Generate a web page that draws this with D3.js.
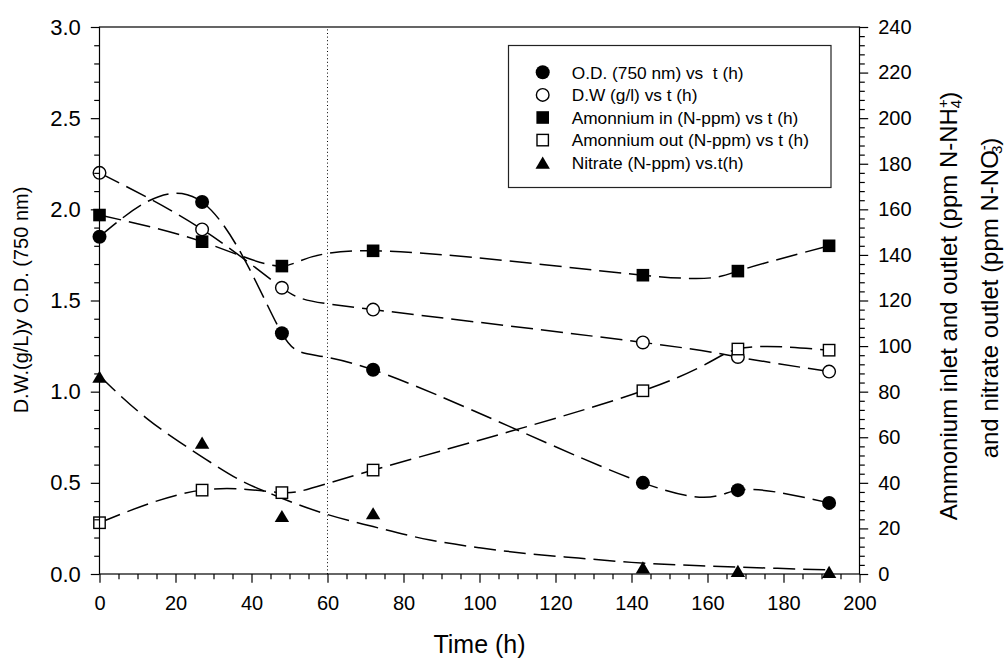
<!DOCTYPE html>
<html>
<head>
<meta charset="utf-8">
<script src="https://cdn.jsdelivr.net/npm/d3@7"></script>
<style>
  html, body { margin: 0; padding: 0; background: #fff; }
  svg { display: block; font-family: "Liberation Sans", Arial, sans-serif; }
  text { white-space: pre; }
</style>
</head>
<body>
<svg id="chart" width="1008" height="661"></svg>
<script>
// Sampling times (h)
const times = [0, 27, 48, 72, 143, 168, 192];

// Left axis series: D.W. (g/L) and O.D. (750 nm)
const odValues = [1.85, 2.04, 1.32, 1.12, 0.50, 0.46, 0.39];
const dwValues = [2.20, 1.89, 1.57, 1.45, 1.27, 1.19, 1.11];

// Right axis series: N-ppm
const nh4InValues  = [157.5, 145.8, 135.1, 141.8, 131.1, 132.9, 144.0];
const nh4OutValues = [22.5, 36.8, 35.7, 45.6, 80.4, 98.7, 98.2];
const nitrateValues = [86.5, 57.6, 25.4, 26.6, 2.9, 1.3, 0.9];

// Fitted decay curve for nitrate (time, ppm)
const nitrateFitTimes  = [0, 5, 13, 21, 28, 37, 47, 59, 72, 87, 100, 113, 126, 140, 160, 180, 192];
const nitrateFitValues = [87, 79, 67.5, 58, 50.3, 41.2, 33.9, 26.6, 20.8, 14.9, 11.5, 8.9, 7.0, 5.1, 3.5, 2.4, 1.8];

// Axis ticks
const xTicks = [0, 20, 40, 60, 80, 100, 120, 140, 160, 180, 200];
const yLeftTicks = [0.0, 0.5, 1.0, 1.5, 2.0, 2.5, 3.0];
const yRightTicks = [0, 20, 40, 60, 80, 100, 120, 140, 160, 180, 200, 220, 240];
const markerTime = 60;

// Legend entries
const legendLabels = [
  "O.D. (750 nm) vs  t (h)",
  "D.W (g/l) vs t (h)",
  "Amonnium in (N-ppm) vs t (h)",
  "Amonnium out (N-ppm) vs t (h)",
  "Nitrate (N-ppm) vs.t(h)"
];

const svg = d3.select("#chart");
const plotLeft = 99.5, plotRight = 859.5, plotTop = 27, plotBottom = 574;

const x = d3.scaleLinear().domain([0, 200]).range([plotLeft, plotRight]);
const yL = d3.scaleLinear().domain([0, 3]).range([plotBottom, plotTop]);
const yR = d3.scaleLinear().domain([0, 240]).range([plotBottom, plotTop]);

const dash = "22,8";
const lineW = 1.5;

// Vertical dotted reference line
svg.append("line")
  .attr("x1", x(markerTime)).attr("x2", x(markerTime))
  .attr("y1", yL(0)).attr("y2", yL(3))
  .attr("stroke", "#000").attr("stroke-width", 1)
  .attr("stroke-dasharray", "1,2.6");

// Dashed spline curves through each series
function drawCurve(ts, vals, yScale, curve) {
  svg.append("path")
    .attr("d", d3.line()
      .x(t => x(t))
      .y((t, i) => yScale(vals[i]))
      .curve(curve)(ts))
    .attr("fill", "none").attr("stroke", "#000")
    .attr("stroke-width", lineW).attr("stroke-dasharray", dash);
}
drawCurve(times, odValues, yL, d3.curveNatural);
drawCurve(times, dwValues, yL, d3.curveNatural);
drawCurve(times, nh4InValues, yR, d3.curveNatural);
drawCurve(times, nh4OutValues, yR, d3.curveNatural);
drawCurve(nitrateFitTimes, nitrateFitValues, yR, d3.curveMonotoneX);

// Marker shapes
const symbols = {
  filledCircle: g => g.append("circle").attr("r", 7).attr("fill", "#000"),
  openCircle: g => g.append("circle").attr("r", 6.3).attr("fill", "#fff").attr("stroke", "#000").attr("stroke-width", 1.4),
  filledSquare: g => g.append("rect").attr("x", -6.3).attr("y", -6.3).attr("width", 12.6).attr("height", 12.6).attr("fill", "#000"),
  openSquare: g => g.append("rect").attr("x", -5.7).attr("y", -5.7).attr("width", 11.4).attr("height", 11.4).attr("fill", "#fff").attr("stroke", "#000").attr("stroke-width", 1.4),
  triangle: g => g.append("path").attr("d", "M0,-6.2L7.2,6L-7.2,6Z").attr("fill", "#000")
};

function drawMarkers(vals, yScale, kind) {
  times.forEach((t, i) => {
    const g = svg.append("g").attr("transform", `translate(${x(t)},${yScale(vals[i])})`);
    symbols[kind](g);
  });
}
drawMarkers(nitrateValues, yR, "triangle");
drawMarkers(dwValues, yL, "openCircle");
drawMarkers(odValues, yL, "filledCircle");
drawMarkers(nh4OutValues, yR, "openSquare");
drawMarkers(nh4InValues, yR, "filledSquare");

// Axes
function styleAxis(fontSize) {
  return g => {
    g.select(".domain").remove();
    g.selectAll("line").attr("stroke", "#000").attr("stroke-width", 1.2);
    g.selectAll("text").attr("fill", "#000").attr("font-size", fontSize)
      .attr("font-family", "Liberation Sans, Arial, sans-serif");
  };
}
const minorX = d3.range(0, 201, 5).filter(v => v % 20 !== 0);
const minorL = d3.range(0, 31, 1).map(v => v / 10).filter(v => Math.round(v * 10) % 5 !== 0);
const minorR = d3.range(0, 241, 4).filter(v => v % 20 !== 0);

svg.append("g").attr("transform", `translate(0,${plotBottom})`)
  .call(d3.axisBottom(x).tickValues(xTicks).tickSize(8.7).tickPadding(13).tickFormat(d3.format("d")))
  .call(styleAxis(20));
svg.append("g").attr("transform", `translate(0,${plotBottom})`)
  .call(d3.axisBottom(x).tickValues(minorX).tickSize(5.3).tickFormat(""))
  .call(styleAxis(20));

svg.append("g").attr("transform", `translate(${plotLeft},0)`)
  .call(d3.axisLeft(yL).tickValues(yLeftTicks).tickSize(8.7).tickPadding(10).tickFormat(d3.format(".1f")))
  .call(styleAxis(22));
svg.append("g").attr("transform", `translate(${plotLeft},0)`)
  .call(d3.axisLeft(yL).tickValues(minorL).tickSize(5.3).tickFormat(""))
  .call(styleAxis(22));

svg.append("g").attr("transform", `translate(${plotRight},0)`)
  .call(d3.axisRight(yR).tickValues(yRightTicks).tickSize(8.7).tickPadding(10).tickFormat(d3.format("d")))
  .call(styleAxis(20));
svg.append("g").attr("transform", `translate(${plotRight},0)`)
  .call(d3.axisRight(yR).tickValues(minorR).tickSize(5.3).tickFormat(""))
  .call(styleAxis(20));

// Frame
svg.append("rect")
  .attr("x", plotLeft).attr("y", plotTop).attr("width", plotRight - plotLeft).attr("height", plotBottom - plotTop)
  .attr("fill", "none").attr("stroke", "#000").attr("stroke-width", 1.2);

// Axis titles
svg.append("text")
  .attr("x", (plotLeft + plotRight) / 2).attr("y", 653)
  .attr("text-anchor", "middle").attr("font-size", 25)
  .text("Time (h)");

svg.append("text")
  .attr("transform", "translate(27.7,300) rotate(-90)")
  .attr("text-anchor", "middle").attr("font-size", 20)
  .text("D.W.(g/L)y O.D. (750 nm)");

function chemLabel(tx, ty, main, sup, sub) {
  const t = svg.append("text")
    .attr("transform", `translate(${tx},${ty}) rotate(-90)`)
    .attr("text-anchor", "middle").attr("font-size", 24);
  t.append("tspan").text(main);
  t.append("tspan").attr("font-size", 15).attr("dy", -9).text(sup);
  t.append("tspan").attr("font-size", 15).attr("dx", -8.8).attr("dy", 13).text(sub);
  t.append("tspan").attr("dy", -4).text(")");
}
chemLabel(957, 306, "Ammonium inlet and outlet (ppm N-NH", "+", "4");
chemLabel(998, 298, "and nitrate outlet (ppm N-NO", "-", "3");

// Legend
const legend = svg.append("g");
legend.append("rect")
  .attr("x", 508.5).attr("y", 45.5).attr("width", 322.5).attr("height", 142)
  .attr("fill", "#fff").attr("stroke", "#222").attr("stroke-width", 1.2);
const legendKinds = ["filledCircle", "openCircle", "filledSquare", "openSquare", "triangle"];
legendLabels.forEach((label, i) => {
  const cy = 72.3 + i * 22.6;
  const g = legend.append("g").attr("transform", `translate(542.7,${cy})`);
  symbols[legendKinds[i]](g);
  legend.append("text")
    .attr("x", 571.7).attr("y", cy + 6.2)
    .attr("font-size", 17.3)
    .text(label);
});
</script>
</body>
</html>
